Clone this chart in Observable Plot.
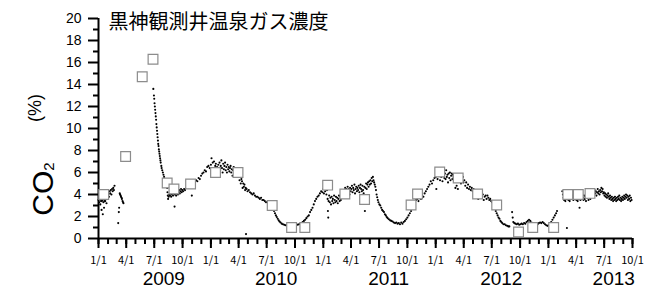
<!DOCTYPE html>
<html><head><meta charset="utf-8">
<script src="https://cdn.jsdelivr.net/npm/d3@7"></script>
<script src="https://cdn.jsdelivr.net/npm/@observablehq/plot@0.6"></script>
<style>body{margin:0;background:#fff} svg{display:block}</style>
</head><body><div id="chart"></div>
<script>
// ---- text ----
const title = "黒神観測井温泉ガス濃度";
const yLabelMain = "CO";
const yLabelSub = "2";
const yLabelUnit = "(%)";
const years = [2009, 2010, 2011, 2012, 2013];
const quarterLabels = ["1/1", "4/1", "7/1", "10/1"];
const yMajorTicks = [0, 2, 4, 6, 8, 10, 12, 14, 16, 18, 20];
const yMinorTicks = [1, 3, 5, 7, 9, 11, 13, 15, 17, 19];

// ---- manual samples (open squares) ----
const sampleDates = ["2009-01-18","2009-03-30","2009-05-23","2009-06-27","2009-08-12","2009-09-03","2009-10-27",
  "2010-01-16","2010-03-30","2010-07-19","2010-09-20","2010-11-02",
  "2011-01-15","2011-03-12","2011-05-15","2011-10-13","2011-11-03",
  "2012-01-14","2012-03-14","2012-05-16","2012-07-17","2012-09-26","2012-11-11",
  "2013-01-18","2013-03-05","2013-04-08","2013-05-16"];
const sampleCO2 = [4.0,7.45,14.7,16.3,5.05,4.5,4.95,
  6.0,6.0,3.0,1.0,1.0,
  4.85,4.05,3.55,3.05,4.05,
  6.05,5.5,4.05,3.05,0.6,1.0,
  1.0,4.0,4.0,4.1];

// ---- continuous logger (small dots) ----
const logger2009 = [["2009-01-01",3.5],["2009-01-03",3.3],["2009-01-05",3.6],["2009-01-07",3.1],["2009-01-09",3.4],["2009-01-11",2.6],["2009-01-12",3.4],["2009-01-13",3.5],["2009-01-15",2.2],["2009-01-16",3.6],["2009-01-17",3.3],["2009-01-19",2.8],["2009-01-20",3.4],["2009-01-21",3.6],["2009-01-23",3.4],["2009-01-25",3.7],["2009-01-27",3.2],["2009-01-29",3.6],["2009-01-31",3.8],["2009-02-02",4.0],["2009-02-04",3.8],["2009-02-06",4.3],["2009-02-08",4.1],["2009-02-10",4.4],["2009-02-12",4.0],["2009-02-14",4.5],["2009-02-16",4.3],["2009-02-18",4.6],["2009-02-20",4.4],["2009-02-22",4.8],
["2009-03-06",1.4],["2009-03-08",2.4],["2009-03-09",2.8],["2009-03-11",4.1],["2009-03-12",4.0],["2009-03-14",3.9],["2009-03-15",3.8],["2009-03-17",3.7],["2009-03-18",3.6],["2009-03-20",3.4],["2009-03-22",3.3],["2009-03-23",3.2],
["2009-06-28",13.6],["2009-06-30",13.0],["2009-07-01",12.7],["2009-07-02",12.3],["2009-07-03",12.0],["2009-07-04",11.7],["2009-07-05",11.4],["2009-07-06",11.1],["2009-07-07",10.8],["2009-07-08",10.4],["2009-07-09",10.1],["2009-07-10",9.8],["2009-07-11",9.5],["2009-07-12",9.2],["2009-07-13",8.9],["2009-07-14",8.6],["2009-07-15",8.4],["2009-07-16",8.1],["2009-07-17",7.9],["2009-07-18",7.7],["2009-07-19",7.5],["2009-07-20",7.3],["2009-07-21",7.1],["2009-07-22",6.9],["2009-07-24",6.6],["2009-07-25",6.4],["2009-07-27",6.2],["2009-07-29",6.0],["2009-07-31",5.8],["2009-08-02",5.6],["2009-08-04",5.4],["2009-08-06",5.2],["2009-08-08",5.0],["2009-08-10",4.8],
["2009-08-12",4.6],["2009-08-13",4.2],["2009-08-14",3.9],["2009-08-15",3.6],["2009-08-17",3.8],["2009-08-19",4.0],["2009-08-21",3.9],["2009-08-23",4.1],["2009-08-25",3.8],["2009-08-27",4.0],["2009-08-29",4.2],["2009-08-31",3.9],["2009-09-02",4.1],["2009-09-05",2.9],["2009-09-06",4.0],["2009-09-08",4.2],["2009-09-10",3.9],["2009-09-12",4.1],["2009-09-14",4.3],["2009-09-16",4.0],["2009-09-18",4.2],["2009-09-20",4.4],["2009-09-22",4.1],["2009-09-24",4.3],["2009-09-26",4.5],["2009-09-28",4.2],["2009-09-30",4.4],
["2009-10-03",4.3],["2009-10-06",4.5],["2009-10-09",4.4],["2009-10-13",4.6],["2009-10-17",4.7],["2009-10-21",4.6],["2009-10-25",4.9],["2009-10-29",4.8],["2009-10-31",3.9],["2009-11-02",5.0],["2009-11-06",5.1],["2009-11-10",4.9],["2009-11-14",5.3],["2009-11-18",5.2],["2009-11-22",5.5],["2009-11-26",5.4],["2009-11-30",5.7],["2009-12-04",5.9],["2009-12-08",6.0],["2009-12-12",6.2],["2009-12-16",6.1],["2009-12-20",6.5],["2009-12-24",6.6],["2009-12-28",6.4]];

const logger2010 = [["2010-01-01",6.7],["2010-01-03",7.3],["2010-01-05",6.3],["2010-01-07",6.9],["2010-01-09",6.4],["2010-01-11",7.0],["2010-01-13",6.2],["2010-01-15",6.6],["2010-01-17",6.8],["2010-01-19",6.1],["2010-01-21",6.5],["2010-01-23",5.9],["2010-01-25",6.7],["2010-01-27",6.3],["2010-01-29",6.9],["2010-01-31",6.2],["2010-02-02",6.6],["2010-02-04",7.1],["2010-02-06",6.4],["2010-02-08",6.0],["2010-02-10",6.8],["2010-02-12",6.3],["2010-02-14",6.6],["2010-02-16",6.9],["2010-02-18",6.2],["2010-02-20",6.5],["2010-02-22",6.0],["2010-02-24",6.7],["2010-02-26",6.3],["2010-02-28",6.5],["2010-03-02",6.1],["2010-03-04",6.4],["2010-03-06",6.6],["2010-03-08",6.0],["2010-03-10",6.3],["2010-03-12",5.7],["2010-03-14",6.2],["2010-03-16",6.5],["2010-03-18",5.9],["2010-03-20",6.1],["2010-03-22",5.8],["2010-03-24",6.3],["2010-03-26",5.6],["2010-03-28",6.0],["2010-03-30",5.7],
["2010-04-02",5.8],["2010-04-04",5.3],["2010-04-06",5.6],["2010-04-08",5.0],["2010-04-10",5.4],["2010-04-12",5.2],["2010-04-14",4.6],["2010-04-16",5.0],["2010-04-18",4.7],["2010-04-20",4.9],["2010-04-22",4.4],["2010-04-24",4.6],["2010-04-25",0.4],["2010-04-27",4.5],["2010-04-30",4.3],["2010-05-04",4.4],["2010-05-08",4.2],["2010-05-12",4.1],["2010-05-16",4.0],["2010-05-20",4.1],["2010-05-24",3.9],["2010-05-28",3.8],["2010-06-01",3.8],["2010-06-05",3.7],["2010-06-09",3.6],["2010-06-13",3.7],["2010-06-17",3.5],["2010-06-21",3.5],["2010-06-25",3.4],["2010-06-29",3.3],["2010-07-03",3.3],["2010-07-07",3.2],["2010-07-11",3.1],["2010-07-15",3.0],["2010-07-19",2.9],["2010-07-22",2.7],["2010-07-25",2.5],["2010-07-28",2.3],["2010-07-31",2.1],["2010-08-03",1.95],["2010-08-06",1.8],["2010-08-09",1.65],["2010-08-12",1.55],["2010-08-15",1.45],["2010-08-19",1.35],["2010-08-23",1.3],["2010-08-27",1.25],["2010-08-31",1.2],["2010-09-04",1.2],["2010-09-08",1.15],["2010-09-12",1.2],["2010-09-16",1.15],["2010-09-20",1.2],["2010-09-24",1.2],["2010-09-28",1.25],["2010-10-02",1.2],["2010-10-06",1.3],["2010-10-10",1.25],["2010-10-14",1.3],["2010-10-18",1.35],["2010-10-22",1.4],["2010-10-26",1.5],["2010-10-30",1.6],["2010-11-03",1.7],["2010-11-07",1.85],["2010-11-11",2.0],["2010-11-15",2.1],["2010-11-19",2.4],["2010-11-23",2.6],["2010-11-27",2.8],["2010-12-01",3.1],["2010-12-05",3.4],["2010-12-09",3.6],["2010-12-13",3.8],["2010-12-17",3.9],["2010-12-21",4.1],["2010-12-25",4.3],["2010-12-29",4.2]];

const logger2011 = [["2011-01-01",4.5],["2011-01-03",4.1],["2011-01-05",4.7],["2011-01-07",4.3],["2011-01-09",4.8],["2011-01-11",4.0],["2011-01-13",4.4],["2011-01-15",3.6],["2011-01-16",2.5],["2011-01-17",1.9],["2011-01-18",3.4],["2011-01-20",3.9],["2011-01-22",3.3],["2011-01-24",3.7],["2011-01-26",3.1],["2011-01-28",3.8],["2011-01-30",3.4],["2011-02-01",3.6],["2011-02-03",3.2],["2011-02-05",3.9],["2011-02-07",3.5],["2011-02-09",3.3],["2011-02-11",3.8],["2011-02-13",3.4],["2011-02-15",3.7],["2011-02-17",3.2],["2011-02-19",3.6],["2011-02-21",3.9],["2011-02-23",3.4],["2011-02-25",3.8],["2011-02-27",3.5],["2011-03-01",4.1],["2011-03-03",3.9],["2011-03-05",4.3],["2011-03-07",4.0],["2011-03-09",4.4],["2011-03-11",4.2],["2011-03-13",4.6],["2011-03-15",4.1],["2011-03-17",4.5],["2011-03-19",4.3],["2011-03-21",4.7],["2011-03-23",4.2],["2011-03-25",4.5],["2011-03-27",4.0],["2011-03-29",4.6],["2011-03-31",4.3],["2011-04-02",4.5],["2011-04-04",4.8],["2011-04-06",4.2],["2011-04-08",4.6],["2011-04-10",4.4],["2011-04-12",4.9],["2011-04-14",4.1],["2011-04-16",4.5],["2011-04-18",4.7],["2011-04-20",4.3],["2011-04-22",4.6],["2011-04-24",4.4],["2011-04-26",4.8],["2011-04-28",4.2],["2011-04-30",4.6],["2011-05-02",4.9],["2011-05-04",4.5],["2011-05-06",4.3],["2011-05-08",4.8],["2011-05-10",4.4],["2011-05-12",4.1],["2011-05-14",4.7],["2011-05-16",2.5],["2011-05-18",4.6],["2011-05-20",5.0],["2011-05-22",4.5],["2011-05-24",4.9],["2011-05-26",5.1],["2011-05-28",4.7],["2011-05-30",5.2],["2011-06-01",4.9],["2011-06-03",5.3],["2011-06-05",5.0],["2011-06-07",5.5],["2011-06-09",5.2],["2011-06-11",5.6],["2011-06-13",5.3],["2011-06-15",5.1],["2011-06-17",4.9],["2011-06-19",4.7],["2011-06-21",4.4],["2011-06-23",4.0],["2011-06-25",3.75],["2011-06-27",3.5],["2011-06-29",3.3],["2011-07-02",3.1],["2011-07-05",3.0],["2011-07-08",2.8],["2011-07-11",2.6],["2011-07-14",2.5],["2011-07-17",2.4],["2011-07-20",2.2],["2011-07-23",2.1],["2011-07-26",1.95],["2011-07-29",1.85],["2011-08-02",1.75],["2011-08-06",1.65],["2011-08-10",1.6],["2011-08-14",1.55],["2011-08-18",1.45],["2011-08-22",1.4],["2011-08-26",1.45],["2011-08-30",1.35],["2011-09-03",1.4],["2011-09-07",1.3],["2011-09-11",1.45],["2011-09-15",1.35],["2011-09-19",1.5],["2011-09-23",1.6],["2011-09-27",1.75],["2011-10-01",1.9],["2011-10-05",2.1],["2011-10-09",2.3],["2011-10-13",2.5],["2011-10-17",2.8],["2011-10-21",3.0],["2011-10-25",3.3],["2011-10-29",3.5],["2011-11-02",3.6],["2011-11-06",3.4],["2011-11-10",3.7],["2011-11-14",3.6],["2011-11-18",3.9],["2011-11-22",3.8],["2011-11-26",4.1],["2011-11-30",4.3],["2011-12-04",4.5],["2011-12-08",4.7],["2011-12-12",4.9],["2011-12-16",5.2],["2011-12-20",5.0],["2011-12-24",5.3],["2011-12-28",5.5]];

const logger2012 = [["2012-01-01",5.6],["2012-01-03",4.5],["2012-01-05",5.9],["2012-01-07",5.4],["2012-01-09",6.1],["2012-01-11",5.7],["2012-01-13",5.9],["2012-01-15",5.3],["2012-01-17",6.0],["2012-01-19",5.6],["2012-01-21",5.8],["2012-01-23",5.2],["2012-01-25",6.1],["2012-01-27",5.7],["2012-01-29",5.5],["2012-01-31",5.9],["2012-02-02",5.4],["2012-02-04",6.2],["2012-02-06",5.6],["2012-02-08",5.8],["2012-02-10",5.1],["2012-02-12",5.9],["2012-02-14",5.5],["2012-02-16",6.0],["2012-02-18",5.3],["2012-02-20",5.7],["2012-02-22",5.9],["2012-02-24",5.4],["2012-02-26",5.8],["2012-02-28",5.6],["2012-03-01",5.2],["2012-03-03",5.7],["2012-03-05",4.6],["2012-03-07",5.5],["2012-03-09",4.8],["2012-03-11",5.6],["2012-03-13",4.5],["2012-03-15",5.4],["2012-03-17",5.7],["2012-03-19",5.2],["2012-03-21",5.6],["2012-03-23",5.0],["2012-03-25",5.5],["2012-03-27",5.3],["2012-03-29",5.6],["2012-03-31",5.1],["2012-04-03",5.3],["2012-04-06",4.8],["2012-04-09",5.1],["2012-04-12",4.6],["2012-04-15",4.9],["2012-04-18",4.5],["2012-04-21",4.7],["2012-04-24",4.4],["2012-04-27",4.6],["2012-04-30",4.3],["2012-05-03",4.5],["2012-05-06",4.2],["2012-05-09",4.4],["2012-05-12",4.1],["2012-05-15",4.0],["2012-05-18",3.6],["2012-05-21",4.0],["2012-05-24",3.8],["2012-05-27",3.9],["2012-05-30",3.7],["2012-06-02",4.0],["2012-06-05",3.5],["2012-06-08",3.8],["2012-06-11",3.9],["2012-06-14",3.6],["2012-06-17",3.9],["2012-06-20",3.7],["2012-06-23",3.5],["2012-06-26",3.6],["2012-06-29",3.4],["2012-07-02",3.3],["2012-07-05",3.2],["2012-07-08",3.0],["2012-07-11",2.8],["2012-07-14",2.5],["2012-07-17",2.3],["2012-07-20",2.1],["2012-07-23",1.9],["2012-07-26",1.8],["2012-07-29",1.6],["2012-08-01",1.5],["2012-08-04",1.4],["2012-08-08",1.3],["2012-08-12",1.3],["2012-08-16",1.2],["2012-08-20",1.15],["2012-08-24",1.1],["2012-08-27",1.1],
["2012-09-05",2.4],["2012-09-07",1.9],["2012-09-09",1.5],["2012-09-12",1.4],["2012-09-16",1.35],["2012-09-20",1.3],["2012-09-24",1.35],["2012-09-28",1.25],["2012-10-02",1.3],["2012-10-06",1.35],["2012-10-10",1.3],["2012-10-14",1.4],["2012-10-18",1.35],["2012-10-22",1.5],["2012-10-26",1.6],["2012-10-30",1.7],["2012-11-03",1.6],["2012-11-07",1.45],["2012-11-11",1.4],["2012-11-15",1.35],["2012-11-19",1.3],["2012-11-23",1.35],["2012-11-27",1.3],["2012-12-01",1.4],["2012-12-05",1.45],["2012-12-09",1.4],["2012-12-13",1.5],["2012-12-17",1.4],["2012-12-21",1.3],["2012-12-25",1.2],["2012-12-29",1.15]];

const logger2013 = [["2013-01-02",1.2],["2013-01-06",1.3],["2013-01-10",1.5],["2013-01-14",1.7],["2013-01-18",1.9],["2013-01-22",2.1],["2013-01-26",2.3],["2013-01-29",2.5],
["2013-02-15",4.3],["2013-02-17",4.0],["2013-02-19",3.7],["2013-02-21",3.5],["2013-02-23",3.9],["2013-02-25",3.4],["2013-02-27",3.8],["2013-03-02",0.95],["2013-03-03",3.6],["2013-03-05",3.9],["2013-03-07",3.5],["2013-03-09",3.8],["2013-03-11",3.4],["2013-03-13",3.9],["2013-03-15",3.6],["2013-03-17",4.0],["2013-03-19",3.7],["2013-03-21",3.9],["2013-03-23",3.5],["2013-03-25",3.8],["2013-03-27",3.6],["2013-03-29",4.0],["2013-03-31",3.7],["2013-04-02",3.5],["2013-04-04",3.9],["2013-04-06",3.4],["2013-04-08",3.8],["2013-04-10",3.6],["2013-04-12",2.8],["2013-04-13",3.9],["2013-04-15",3.5],["2013-04-17",3.8],["2013-04-19",3.6],["2013-04-21",4.0],["2013-04-23",3.7],["2013-04-25",3.5],["2013-04-27",3.9],["2013-04-29",3.6],["2013-05-01",3.8],["2013-05-03",3.4],["2013-05-05",3.9],["2013-05-07",3.7],["2013-05-09",4.0],["2013-05-11",3.5],["2013-05-13",3.8],["2013-05-15",4.1],["2013-05-17",3.6],["2013-05-19",3.9],["2013-05-21",4.2],["2013-05-23",3.9],["2013-05-25",4.3],["2013-05-27",4.0],["2013-05-29",4.2],["2013-05-31",4.4],["2013-06-02",4.1],["2013-06-04",4.3],["2013-06-06",3.9],["2013-06-08",4.2],["2013-06-10",4.5],["2013-06-12",4.1],["2013-06-14",4.3],["2013-06-16",4.0],["2013-06-18",4.4],["2013-06-20",4.2],["2013-06-22",4.6],["2013-06-24",4.3],["2013-06-26",4.5],["2013-06-28",4.1],["2013-06-30",4.2],["2013-07-02",3.9],["2013-07-04",4.1],["2013-07-06",3.8],["2013-07-08",4.0],["2013-07-10",3.7],["2013-07-12",3.9],["2013-07-14",4.1],["2013-07-16",3.8],["2013-07-18",3.6],["2013-07-20",3.9],["2013-07-22",3.7],["2013-07-24",3.5],["2013-07-26",3.8],["2013-07-28",3.6],["2013-07-30",3.4],["2013-08-01",3.7],["2013-08-03",3.5],["2013-08-05",3.8],["2013-08-07",3.6],["2013-08-09",3.4],["2013-08-11",3.7],["2013-08-13",3.5],["2013-08-15",3.8],["2013-08-17",3.6],["2013-08-19",3.9],["2013-08-21",3.5],["2013-08-23",3.7],["2013-08-25",3.4],["2013-08-27",3.6],["2013-08-29",3.8],["2013-08-31",3.5],["2013-09-02",3.7],["2013-09-04",3.9],["2013-09-06",3.6],["2013-09-08",3.8],["2013-09-10",4.0],["2013-09-12",3.7],["2013-09-14",3.9],["2013-09-16",3.5],["2013-09-18",3.8],["2013-09-20",3.6],["2013-09-22",3.9],["2013-09-24",3.4],["2013-09-26",3.7],["2013-09-28",3.5]];

// ---- build tables ----
const parse = d3.utcParse("%Y-%m-%d");
const logger = [...logger2009, ...logger2010, ...logger2011, ...logger2012, ...logger2013]
  .map(([d, v]) => ({date: parse(d), co2: v}));
const samples = sampleDates.map((d, i) => ({date: parse(d), co2: sampleCO2[i]}));

const xStart = new Date(Date.UTC(years[0], 0, 1));
const xEnd = new Date(Date.UTC(years[years.length - 1], 9, 1));
const monthTicks = d3.utcMonth.range(xStart, d3.utcDay.offset(xEnd, 1));
const quarterTicks = d3.utcMonth.every(3).range(xStart, d3.utcDay.offset(xEnd, 1));
const yearLabelDates = years.map(y => new Date(Date.UTC(y, 7, 1)));

const tickFont = "'Liberation Sans', Arial, sans-serif";
const jpFont = "'Noto Sans CJK JP', sans-serif";

const chart = Plot.plot({
  width: 645,
  height: 295,
  marginLeft: 98,
  marginRight: 13,
  marginTop: 18,
  marginBottom: 57,
  style: {background: "#fff", color: "#000", overflow: "visible"},
  x: {type: "utc", domain: [xStart, xEnd], axis: null},
  y: {domain: [0, 20], axis: null},
  marks: [
    Plot.axisY({ticks: yMajorTicks, tickSize: 10, tickPadding: 7, strokeWidth: 2, fontSize: 14, fontFamily: tickFont, label: null, tickFormat: d => String(d)}),
    Plot.axisY({ticks: yMinorTicks, tickSize: 5, strokeWidth: 2, label: null, tickFormat: () => ""}),
    Plot.axisX({ticks: monthTicks, tickSize: 6, strokeWidth: 2, label: null, tickFormat: () => ""}),
    Plot.axisX({ticks: quarterTicks, tickSize: 10, tickPadding: 8, strokeWidth: 2, fontSize: 11, fontFamily: jpFont, label: null,
      tickFormat: d => quarterLabels[d.getUTCMonth() / 3]}),
    Plot.axisX({ticks: yearLabelDates, tickSize: 0, tickPadding: 33, fontSize: 19, fontFamily: tickFont, label: null,
      tickFormat: d => String(d.getUTCFullYear())}),
    Plot.ruleX([xStart], {stroke: "#000", strokeWidth: 2}),
    Plot.ruleY([0], {stroke: "#000", strokeWidth: 2}),
    Plot.dot(logger, {x: "date", y: "co2", r: 1.05, fill: "#000", stroke: null}),
    Plot.dot(samples, {x: "date", y: "co2", symbol: "square", r: 5.5, fill: "#fff", stroke: "#8c8c8c", strokeWidth: 1.2}),
    Plot.text([title], {frameAnchor: "top-left", text: d => d, dx: 10, dy: 4, fontSize: 20, fontFamily: jpFont, textAnchor: "start", lineAnchor: "middle", fill: "#000"})
  ]
});

// rotated y-axis label with subscript
const svg = d3.select(chart);
const lab = svg.append("text")
  .attr("transform", "translate(53,189) rotate(-90)")
  .attr("font-family", tickFont)
  .attr("fill", "#000");
lab.append("tspan").attr("font-size", 30).text(yLabelMain);
lab.append("tspan").attr("font-size", 15).attr("dy", 1).text(yLabelSub);
svg.append("text")
  .attr("transform", "translate(41,108) rotate(-90)")
  .attr("text-anchor", "middle")
  .attr("font-family", tickFont)
  .attr("font-size", 18)
  .attr("fill", "#000")
  .text(yLabelUnit);

document.getElementById("chart").append(chart);
</script>
</body></html>
